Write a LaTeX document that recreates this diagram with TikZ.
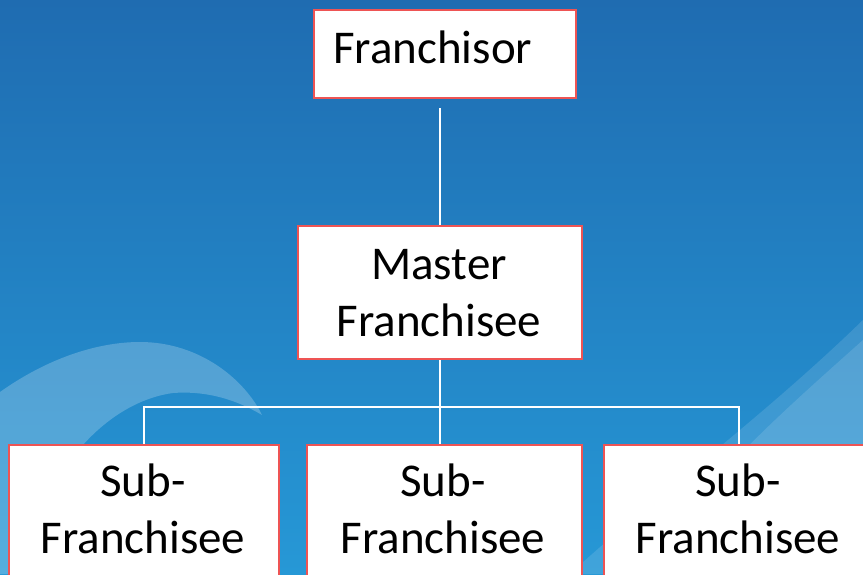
\documentclass[tikz,border=0pt]{standalone}
\usepackage{fontspec}
\setmainfont{Carlito}
\definecolor{bgtop}{RGB}{31,108,177}
\definecolor{bgbot}{RGB}{38,152,214}
\definecolor{boxred}{RGB}{238,84,84}
\begin{document}
\begin{tikzpicture}[x=1pt,y=-1pt,
  box/.style={draw=boxred, line width=2pt, fill=white, inner sep=0pt, anchor=north west},
  lbl/.style={font=\fontsize{47}{57}\selectfont, align=center, inner sep=0pt, text=black},
  conn/.style={draw=white, line width=1.6pt}]
\useasboundingbox (0,0) rectangle (863,574);
\clip (0,0) rectangle (863,574);
% background
\shade[top color=bgtop, bottom color=bgbot] (0,0) rectangle (863,574);
% swooshes
\fill[white, opacity=0.22] (0,392) .. controls (45,360) and (95,342) .. (140,342)
  .. controls (200,342) and (245,380) .. (262,415)
  .. controls (230,396) and (200,391) .. (173,393)
  .. controls (120,400) and (50,450) .. (20,574) -- (0,574) -- cycle;
\fill[white, opacity=0.12] (863,320) .. controls (760,420) and (650,500) .. (570,574) -- (863,574) -- cycle;
\fill[white, opacity=0.12] (863,340) .. controls (790,405) and (740,450) .. (700,500) -- (760,574) -- (863,574) -- cycle;
% boxes
\node[box, minimum width=262pt, minimum height=88pt] (f) at (313,9) {};
\node[box, minimum width=284pt, minimum height=133pt] (m) at (297,225) {};
\node[box, minimum width=270pt, minimum height=160pt] (s1) at (8,444) {};
\node[box, minimum width=275pt, minimum height=160pt] (s2) at (306,444) {};
\node[box, minimum width=270pt, minimum height=160pt] (s3) at (603,444) {};
% connectors
\coordinate (ftop) at (440,108);
\coordinate (bar) at (440,407);
\draw[conn] (ftop) -- (m.north -| ftop);
\draw[conn] (m.south -| bar) -- (s2.north -| bar);
\draw[conn] (s1.north) -- (s1.north |- bar) -- (s3.north |- bar) -- (s3.north);
% texts
\node[lbl, anchor=base west] (ft) at (333,63) {Franchisor};
\node[lbl] (mt) at (439,293.5) {Master\\Franchisee};
\node[lbl] (s1t) at (143,509) {Sub-\\Franchisee};
\node[lbl] (s2t) at (443,509) {Sub-\\Franchisee};
\node[lbl] (s3t) at (738,509) {Sub-\\Franchisee};
\end{tikzpicture}
\end{document}
